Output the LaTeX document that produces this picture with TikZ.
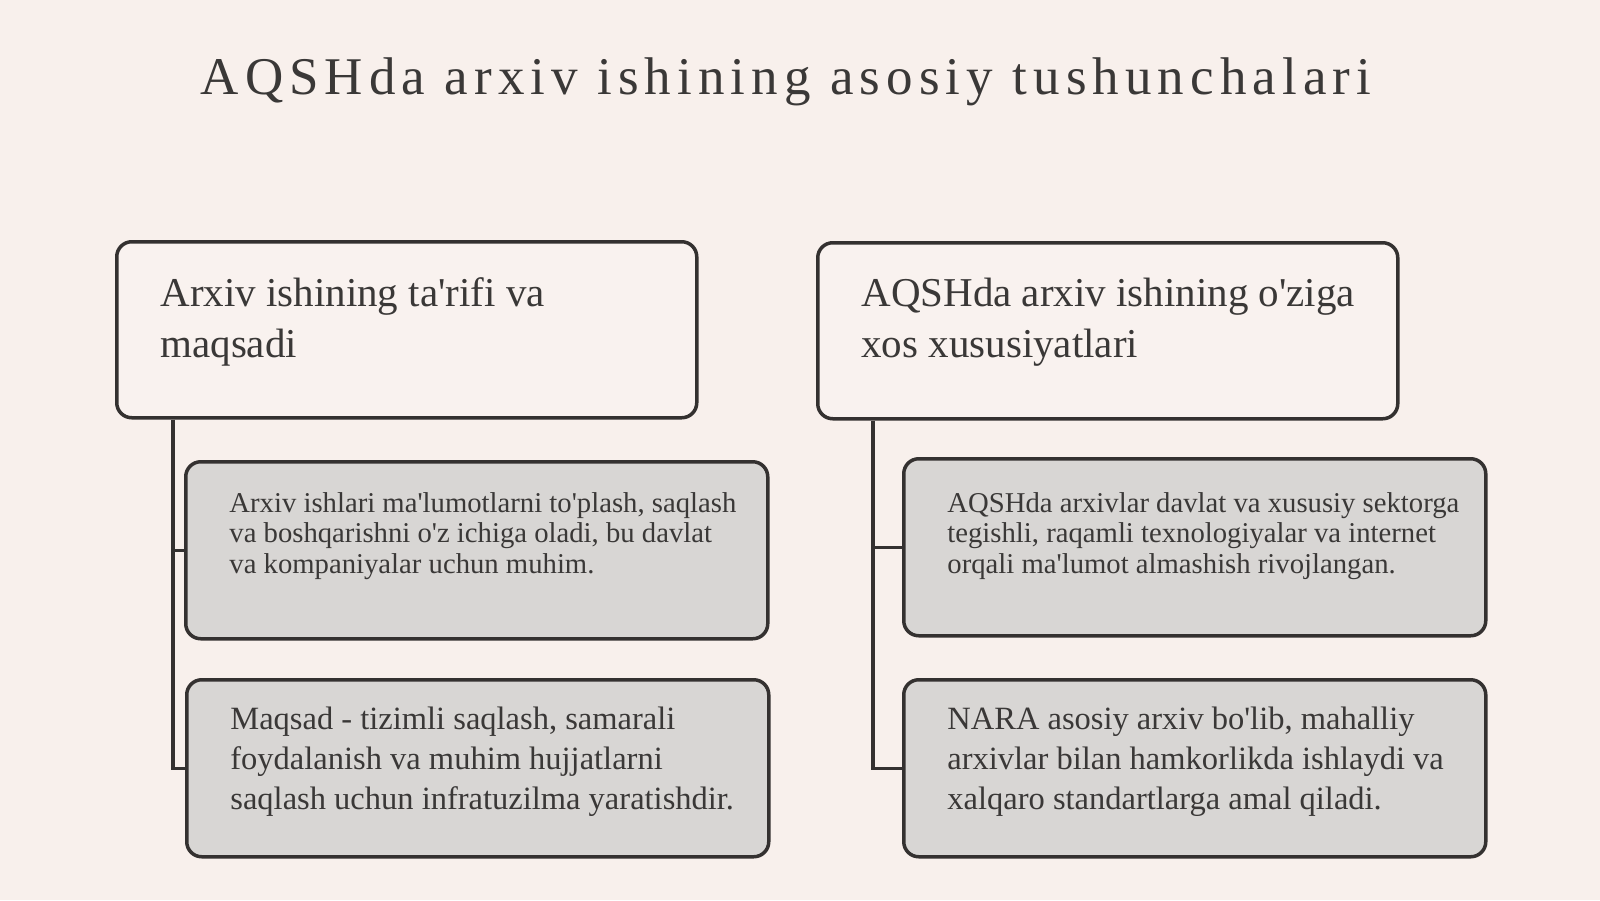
\documentclass[tikz,border=0pt]{standalone}
\usepackage{fontspec}
\setmainfont{Liberation Serif}[Ligatures=TeXOff]
\newfontfamily\titlefont[LetterSpace=11.5, Ligatures=TeXOff]{Liberation Serif}
\usetikzlibrary{positioning, calc}
\definecolor{bgPaper}{RGB}{248,240,236}
\definecolor{hdrFill}{RGB}{249,242,239}
\definecolor{subFill}{RGB}{216,214,212}
\definecolor{inkDark}{RGB}{52,49,48}
\definecolor{txtDark}{RGB}{58,56,55}
\newcommand*{\boxtext}[3]{%
  \node [ #1, anchor = north west ] (#2Text)
        at ([shift={(45,40)}]#2.north west) {#3};
}

\begin{document}
\begin{tikzpicture}[x=0.5pt, y=-0.5pt,
    hdrBox/.style = {draw=inkDark, line width=1.75pt, rounded corners=7.5pt,
      fill=hdrFill, anchor=north west, inner sep=0pt,
      minimum width=290pt, minimum height=88pt},
    subBox/.style = {hdrBox, fill=subFill, minimum width=291pt, minimum height=88.5pt},
    hdrText/.style  = {inner sep=0pt, align=left, text=txtDark,
      font=\fontsize{20.5}{25.5}\selectfont},
    smallText/.style = {hdrText, font=\fontsize{14.35}{15.3}\selectfont},
    bigText/.style   = {hdrText, font=\fontsize{16.25}{20}\selectfont},
    link/.style = {draw=inkDark, line width=1.75pt}
  ]
  \fill[bgPaper] (0,0) rectangle (1600,900);
  \useasboundingbox (0,0) rectangle (1600,900);

  \node[anchor=base, text=txtDark, font=\titlefont\fontsize{26.5}{30}\selectfont]
    (title) at (786,94) {AQSHda arxiv ishining asosiy tushunchalari};

  % headers
  \node[hdrBox] (hdrLeft)  at (115,240) {};
  \node[hdrBox] (hdrRight) at (816,241) {};
  % sub boxes
  \node[subBox] (defBox)  at (184,460) {};
  \node[subBox] (aimBox)  at (185,678) {};
  \node[subBox] (sectBox) at (902,457) {};
  \node[subBox] (naraBox) at (902,678) {};

  \boxtext{hdrText, yshift=1.5pt}{hdrLeft}{Arxiv ishining ta'rifi va\\maqsadi}
  \boxtext{hdrText, yshift=1.5pt}{hdrRight}{AQSHda arxiv ishining o'ziga\\xos xususiyatlari}
  \boxtext{smallText, yshift=4pt}{defBox}{Arxiv ishlari ma'lumotlarni to'plash, saqlash\\va boshqarishni o'z ichiga oladi, bu davlat\\va kompaniyalar uchun muhim.}
  \boxtext{smallText, yshift=2.5pt}{sectBox}{AQSHda arxivlar davlat va xususiy sektorga\\tegishli, raqamli texnologiyalar va internet\\orqali ma'lumot almashish rivojlangan.}
  \boxtext{bigText, yshift=5.5pt}{aimBox}{Maqsad - tizimli saqlash, samarali\\foydalanish va muhim hujjatlarni\\saqlash uchun infratuzilma yaratishdir.}
  \boxtext{bigText, yshift=5.5pt}{naraBox}{NARA asosiy arxiv bo'lib, mahalliy\\arxivlar bilan hamkorlikda ishlaydi va\\xalqaro standartlarga amal qiladi.}

  % connectors
  \coordinate (trunkLeft)  at ([shift={(58,0)}]hdrLeft.south west);
  \coordinate (trunkRight) at ([shift={(57,0)}]hdrRight.south west);
  \draw[link] (trunkLeft) |- (aimBox.west);
  \draw[link] (trunkLeft |- defBox.west) -- (defBox.west);
  \draw[link] (trunkRight) |- (naraBox.west);
  \draw[link] (trunkRight |- sectBox.west) -- (sectBox.west);
\end{tikzpicture}
\end{document}
